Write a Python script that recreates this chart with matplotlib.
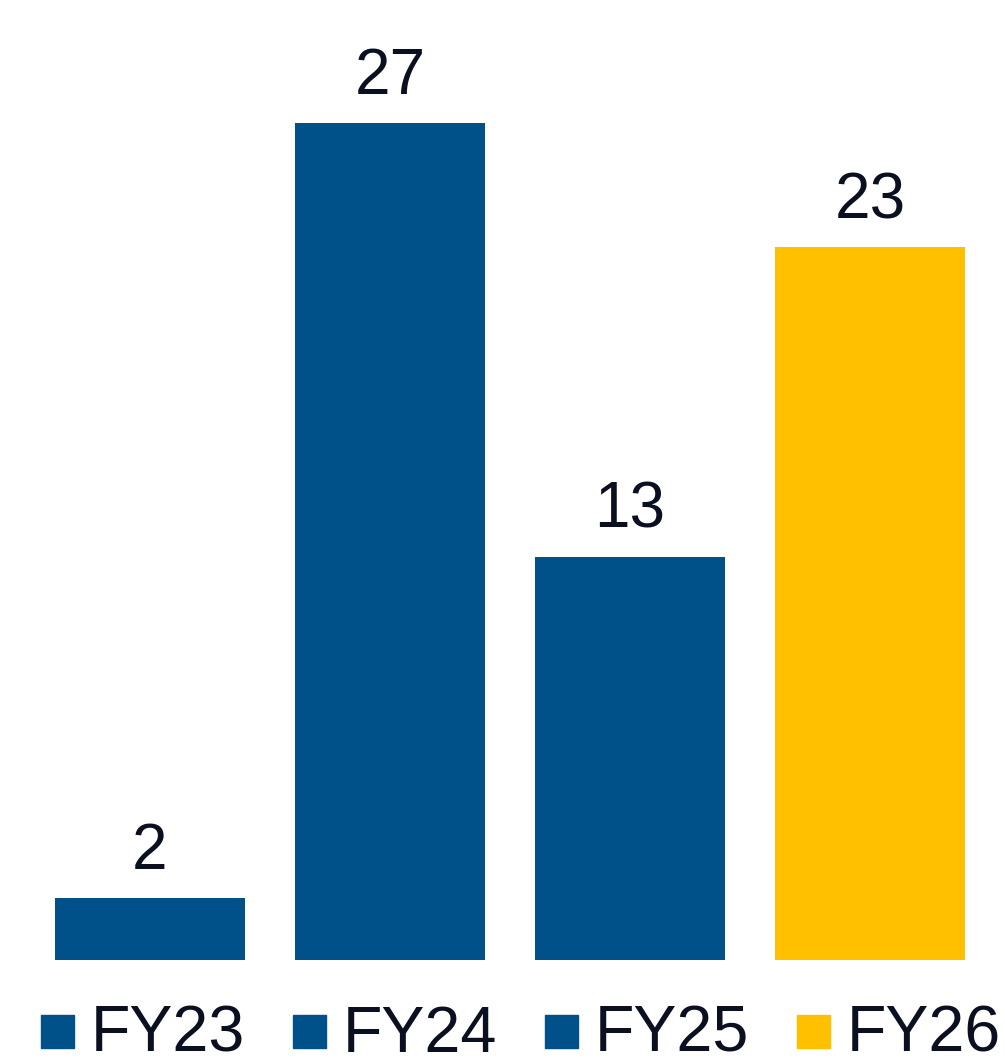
import matplotlib.pyplot as plt
from matplotlib.patches import Rectangle

plt.rcParams['font.family'] = ['Liberation Sans', 'DejaVu Sans']

years = ['FY23', 'FY24', 'FY25', 'FY26']
values = [2, 27, 13, 23]
colors = ['#00508A', '#00508A', '#00508A', '#FFC000']
text_color = '#0B1020'

W, H = 1005, 1061
fig = plt.figure(figsize=(W / 100, H / 100), dpi=100)
# axes fills the width; bottom strip left for the legend row
ax = fig.add_axes([0, 101 / H, 1, 960 / H])
x = list(range(len(years)))
ax.bar(x, values, width=190 / 240, color=colors)
ax.set_xlim(-150 / 240, (W - 150) / 240)
ax.set_ylim(0, 960 / 31.0)
ax.axis('off')

for xi, v in zip(x, values):
    ax.annotate(str(v), (xi, v), xytext=(0, 16), textcoords='offset pixels',
                ha='center', va='bottom', fontsize=46, color=text_color)

# legend row: square + label, 252 px pitch starting at 41 px
for i, (name, c) in enumerate(zip(years, colors)):
    x0 = 41 + 252 * i
    fig.patches.append(Rectangle((x0 / W, 13 / H), 33 / W, 33 / H,
                                 transform=fig.transFigure, color=c, figure=fig))
    fig.text((x0 + 50) / W, 9 / H, name, ha='left', va='baseline',
             fontsize=46.5, color=text_color)

fig.savefig('out.png', dpi=100)
